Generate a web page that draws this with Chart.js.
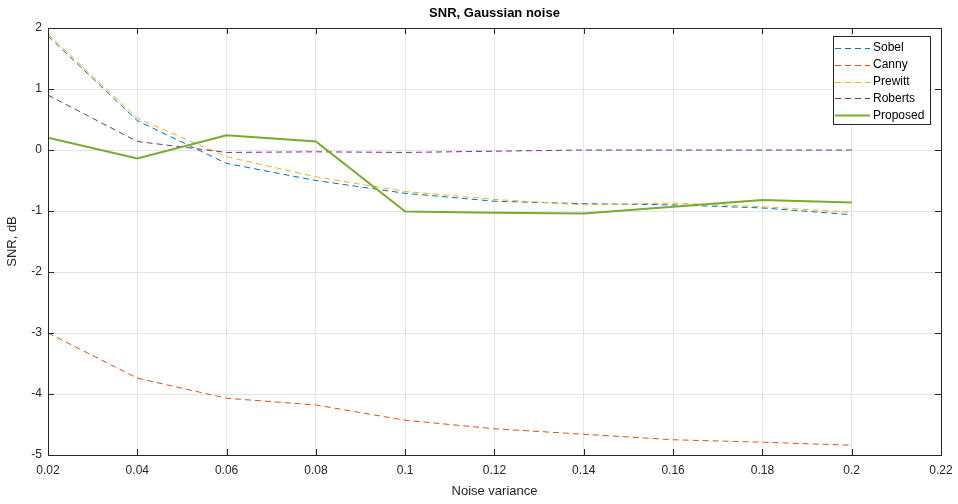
<!DOCTYPE html>
<html>
<head>
<meta charset="utf-8">
<script src="https://cdn.jsdelivr.net/npm/chart.js@4/dist/chart.umd.min.js"></script>
<style>
  body { margin: 0; background: #fff; }
  canvas { display: block; }
</style>
</head>
<body>
<canvas id="snr" width="958" height="504"></canvas>
<script>
// noise variance values (x)
const variance = [0.02, 0.04, 0.06, 0.08, 0.1, 0.12, 0.14, 0.16, 0.18, 0.2];

// SNR, dB per detector
const sobel    = [1.87, 0.48, -0.22, -0.50, -0.71, -0.84, -0.88, -0.90, -0.95, -1.06];
const canny    = [-3.00, -3.74, -4.07, -4.18, -4.43, -4.57, -4.66, -4.75, -4.79, -4.84];
const prewitt  = [1.90, 0.52, -0.11, -0.44, -0.68, -0.81, -0.90, -0.87, -0.93, -1.02];
const roberts  = [0.90, 0.14, -0.04, -0.03, -0.04, -0.02, 0.00, 0.00, 0.00, 0.00];
const proposed = [0.20, -0.14, 0.24, 0.14, -1.01, -1.03, -1.04, -0.93, -0.82, -0.86];

const textColor = "#262626";
const font = "Arial, 'Liberation Sans', sans-serif";

function pts(ys) {
  return variance.map((x, i) => ({ x: x, y: ys[i] }));
}

function dashed(label, ys, color, order) {
  return {
    label: label,
    data: pts(ys),
    borderColor: color,
    borderWidth: 1,
    borderDash: [6, 4],
    pointRadius: 0,
    fill: false,
    tension: 0,
    order: order,
  };
}

// box, inward ticks, title, legend (MATLAB look)
const matlabLook = {
  id: "matlabLook",
  afterDraw(chart) {
    const ctx = chart.ctx;
    const a = chart.chartArea;
    const xs = chart.scales.x, ys = chart.scales.y;
    ctx.save();
    ctx.strokeStyle = textColor;
    ctx.lineWidth = 1;
    ctx.setLineDash([]);
    ctx.beginPath();
    xs.ticks.forEach(t => {
      const px = Math.round(xs.getPixelForValue(t.value)) + 0.5;
      ctx.moveTo(px, a.bottom); ctx.lineTo(px, a.bottom - 6);
      ctx.moveTo(px, a.top); ctx.lineTo(px, a.top + 6);
    });
    ys.ticks.forEach(t => {
      const py = Math.round(ys.getPixelForValue(t.value)) + 0.5;
      ctx.moveTo(a.left, py); ctx.lineTo(a.left + 6, py);
      ctx.moveTo(a.right, py); ctx.lineTo(a.right - 6, py);
    });
    ctx.stroke();
    ctx.strokeRect(Math.round(a.left) + 0.5, Math.round(a.top) + 0.5,
      Math.round(a.right - a.left), Math.round(a.bottom - a.top));

    // title
    ctx.fillStyle = "#000";
    ctx.font = "bold 13px " + font;
    ctx.textAlign = "center";
    ctx.textBaseline = "middle";
    ctx.fillText("SNR, Gaussian noise", (a.left + a.right) / 2, 13);

    // legend
    const lx = 833.5, ly = 36.5, lw = 97, lh = 88;
    ctx.fillStyle = "#fff";
    ctx.fillRect(lx, ly, lw, lh);
    ctx.strokeStyle = textColor;
    ctx.strokeRect(lx, ly, lw, lh);
    ctx.font = "12px " + font;
    ctx.textAlign = "left";
    chart.data.datasets.forEach((ds, i) => {
      const y = 48 + i * 16.8;
      ctx.strokeStyle = ds.borderColor;
      ctx.lineWidth = ds.borderWidth;
      ctx.setLineDash(ds.borderDash || []);
      ctx.beginPath();
      ctx.moveTo(835, Math.round(y) + 0.5);
      ctx.lineTo(870, Math.round(y) + 0.5);
      ctx.stroke();
      ctx.fillStyle = "#000";
      ctx.fillText(ds.label, 873, y);
    });
    ctx.restore();
  },
};

new Chart(document.getElementById("snr"), {
  type: "line",
  data: {
    datasets: [
      dashed("Sobel", sobel, "#0072BD", 5),
      dashed("Canny", canny, "#D95319", 4),
      dashed("Prewitt", prewitt, "#EDB120", 3),
      dashed("Roberts", roberts, "#7E2F8E", 2),
      {
        label: "Proposed",
        data: pts(proposed),
        borderColor: "#77AC30",
        borderWidth: 2,
        pointRadius: 0,
        fill: false,
        tension: 0,
        order: 1,
      },
    ],
  },
  options: {
    responsive: false,
    animation: false,
    layout: { padding: { top: 28, right: 17, left: 0, bottom: 0 } },
    plugins: {
      legend: { display: false },
      title: { display: false },
      tooltip: { enabled: false },
    },
    scales: {
      x: {
        type: "linear",
        min: 0.02,
        max: 0.22,
        afterFit: s => { s.height = 49; s.paddingLeft = 0; s.paddingRight = 0; },
        ticks: {
          stepSize: 0.02,
          color: textColor,
          font: { family: font, size: 12 },
          padding: 8,
          maxRotation: 0,
          callback: v => String(parseFloat(v.toFixed(2))),
        },
        grid: { color: "#e3e3e3", drawTicks: false },
        border: { display: false },
        title: {
          display: true,
          text: "Noise variance",
          color: textColor,
          font: { family: font, size: 13 },
          padding: { top: 4, bottom: 5 },
        },
      },
      y: {
        min: -5,
        max: 2,
        afterFit: s => { s.width = 48; s.paddingTop = 0; s.paddingBottom = 0; },
        ticks: {
          stepSize: 1,
          color: textColor,
          font: { family: font, size: 12 },
          padding: 6,
        },
        grid: { color: "#e3e3e3", drawTicks: false },
        border: { display: false },
        title: {
          display: true,
          text: "SNR, dB",
          color: textColor,
          font: { family: font, size: 13 },
          padding: { top: 5, bottom: 2 },
        },
      },
    },
  },
  plugins: [matlabLook],
});
</script>
</body>
</html>
